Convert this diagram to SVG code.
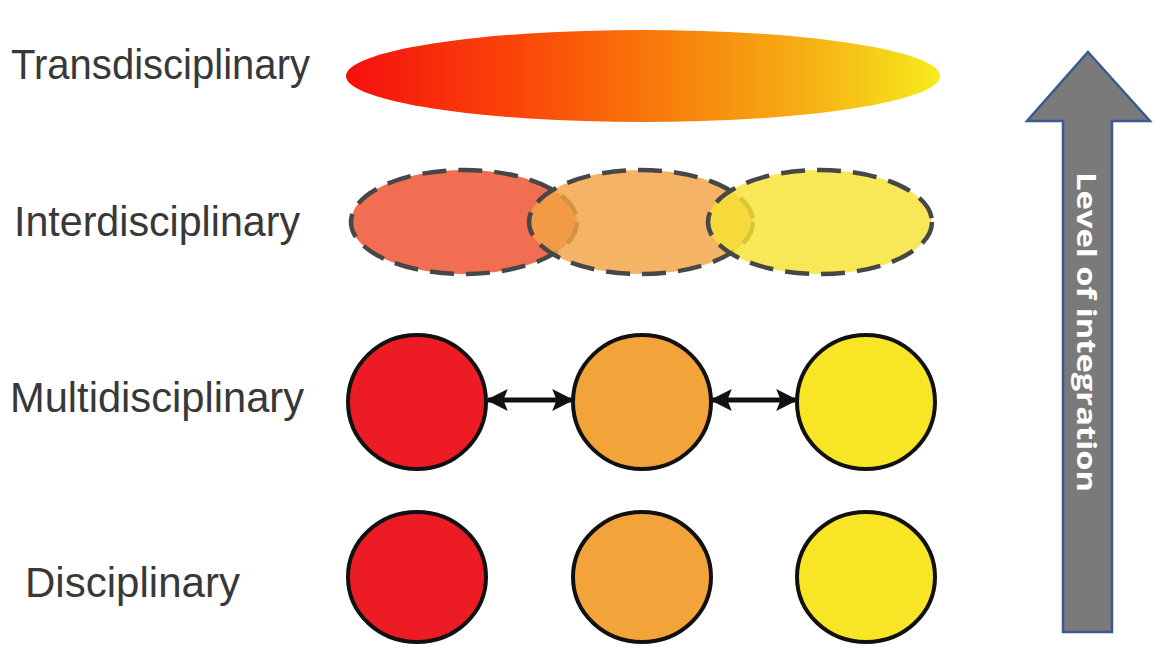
<svg xmlns="http://www.w3.org/2000/svg" width="1161" height="651" viewBox="0 0 1161 651">
  <defs>
    <linearGradient id="transGrad" x1="0" y1="0" x2="1" y2="0">
      <stop offset="0" stop-color="#F5100E"/>
      <stop offset="0.3" stop-color="#FA4808"/>
      <stop offset="0.55" stop-color="#F8800C"/>
      <stop offset="0.78" stop-color="#F6B014"/>
      <stop offset="1" stop-color="#F6EC1C"/>
    </linearGradient>
    <marker id="head" viewBox="0 0 10 10" refX="9" refY="5" markerWidth="4.4" markerHeight="4.4" orient="auto-start-reverse" markerUnits="strokeWidth">
      <path d="M0,0 L10,5 L0,10 L2,5 Z" fill="#111"/>
    </marker>
    <style>
      .label { font-family: "Liberation Sans", Arial, sans-serif; font-size: 42px; fill: #383838; }
      .disc { stroke: #111; stroke-width: 4; }
      .red { fill: #ED1C24; }
      .orange { fill: #F2A33A; }
      .yellow { fill: #F7E526; }
      .inter { stroke: #474747; stroke-width: 4.5; stroke-dasharray: 24 12; fill-opacity: 0.82; }
      .link { stroke: #111; stroke-width: 5; fill: none; marker-start: url(#head); marker-end: url(#head); }
    </style>
  </defs>
  <rect width="1161" height="651" fill="#ffffff"/>

  <!-- row labels -->
  <g id="labels">
    <text class="label" x="11" y="79" textLength="299" lengthAdjust="spacingAndGlyphs">Transdisciplinary</text>
    <text class="label" x="14" y="236" textLength="286" lengthAdjust="spacingAndGlyphs">Interdisciplinary</text>
    <text class="label" x="10" y="412" textLength="294" lengthAdjust="spacingAndGlyphs">Multidisciplinary</text>
    <text class="label" x="25" y="597" textLength="215" lengthAdjust="spacingAndGlyphs">Disciplinary</text>
  </g>

  <!-- transdisciplinary: one merged field -->
  <g id="trans">
    <ellipse cx="643" cy="76" rx="297" ry="46" fill="url(#transGrad)"/>
  </g>

  <!-- interdisciplinary: overlapping fields -->
  <g id="inter-1"><ellipse class="inter" cx="464" cy="222" rx="113" ry="52" fill="#EE4E2C"/></g>
  <g id="inter-2"><ellipse class="inter" cx="641" cy="222" rx="112" ry="52" fill="#F3A443"/></g>
  <g id="inter-3"><ellipse class="inter" cx="820" cy="222" rx="112" ry="52" fill="#F7E232"/></g>

  <!-- multidisciplinary -->
  <g id="multi-1"><ellipse class="disc red" cx="417" cy="402" rx="69" ry="67"/></g>
  <g id="multi-2"><ellipse class="disc orange" cx="642" cy="402" rx="69" ry="67"/></g>
  <g id="multi-3"><ellipse class="disc yellow" cx="866" cy="402" rx="69" ry="67"/></g>

  <!-- disciplinary -->
  <g id="disc-1"><ellipse class="disc red" cx="417" cy="577" rx="69" ry="65"/></g>
  <g id="disc-2"><ellipse class="disc orange" cx="642" cy="577" rx="69" ry="65"/></g>
  <g id="disc-3"><ellipse class="disc yellow" cx="866" cy="577" rx="69" ry="65"/></g>

  <!-- connectors between multidisciplinary fields -->
  <g id="connectors">
    <line class="link" x1="488" y1="400" x2="572" y2="400"/>
    <line class="link" x1="712" y1="400" x2="796" y2="400"/>
  </g>

  <!-- integration axis -->
  <g id="axis">
    <path d="M1088,52 L1150,121 L1112,121 L1112,632 L1063,632 L1063,121 L1027,121 Z" fill="#7A7A7A" stroke="#3D5A8C" stroke-width="2.5" stroke-linejoin="miter"/>
    <text x="0" y="0" transform="translate(1077,332) rotate(90)" text-anchor="middle" font-family="'Open Sans', 'DejaVu Sans', sans-serif" font-weight="bold" font-size="27" fill="#ffffff" textLength="320" lengthAdjust="spacingAndGlyphs">Level of integration</text>
  </g>
</svg>
